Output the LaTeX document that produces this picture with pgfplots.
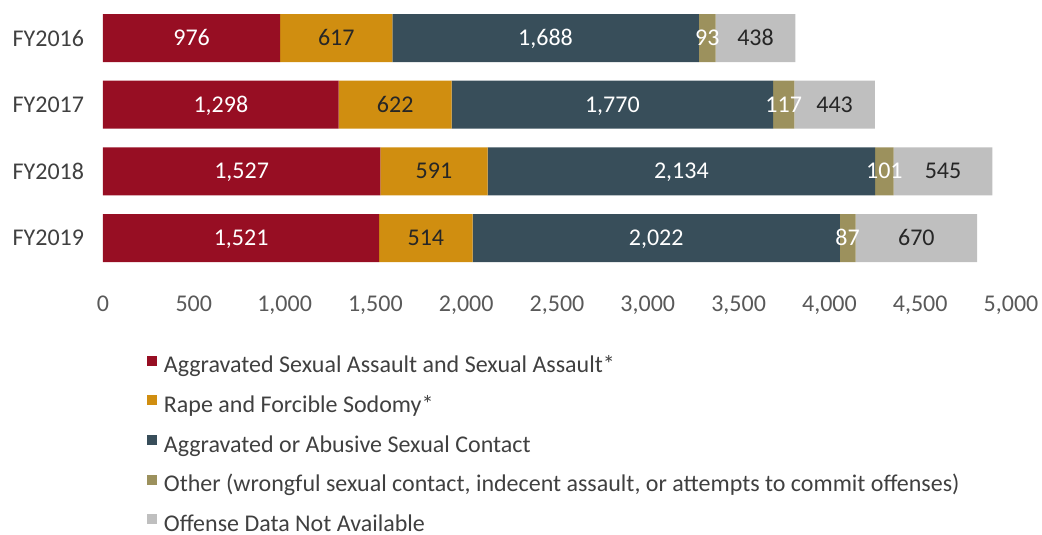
\documentclass[border=0pt]{standalone}
\usepackage{fontspec}
\setmainfont{Carlito}
\usepackage{pgfplots}
\usepackage{pgfplotstable}
\pgfplotsset{compat=1.18}
\definecolor{cRed}{HTML}{970E23}
\definecolor{cOrange}{HTML}{D08E10}
\definecolor{cSlate}{HTML}{384E5A}
\definecolor{cOlive}{HTML}{9C915D}
\definecolor{cGray}{HTML}{BFBFBF}
\definecolor{cDark}{HTML}{262626}
\definecolor{cTick}{HTML}{595959}
\definecolor{cText}{HTML}{404040}
\pgfplotstableread{
idx a b c d e
0 976 617 1688 93 438
1 1298 622 1770 117 443
2 1527 591 2134 101 545
3 1521 514 2022 87 670
}\data
\begin{document}
\begin{tikzpicture}
\path[use as bounding box] (-77.25pt,-197.75pt) rectangle (704.25pt,203.5pt);
\pgfplotsset{
  common/.style={
    at={(0pt,0pt)}, anchor=south west,
    scale only axis, width=681pt, height=200pt,
    xmin=0, xmax=5000, ymin=-0.5, ymax=3.5, y dir=reverse,
    axis line style={draw=none}, tick style={draw=none},
    /pgf/number format/1000 sep={,},
    /pgf/number format/assume math mode=true,
  }
}
\begin{axis}[common,
  xbar stacked, bar width=36pt,
  font=\fontsize{18pt}{21.6pt}\selectfont,
  xtick={0,500,...,5000},
  ytick={0,1,2,3}, yticklabels={FY2016,FY2017,FY2018,FY2019},
  xticklabel style={inner sep=0pt, anchor=base, yshift=-30pt, text=cTick},
  yticklabel style={inner sep=0pt, anchor=east, xshift=-14pt, text=cText},
  legend cell align=left,
  legend image code/.code={\fill[#1] (0pt,1pt) rectangle (7.5pt,8.5pt);},
  legend style={at={(axis description cs:0,0)}, anchor=north west,
    xshift=33pt, yshift=-63pt, draw=none, fill=none, inner sep=0pt,
    row sep=12.75pt, text=cText,
    nodes={inner sep=0pt, text height=13pt, text depth=4pt},
    /tikz/every odd column/.append style={column sep=5pt}},
]
\addplot[fill=cRed, draw=none] table[x=a, y=idx] {\data};
\addplot[fill=cOrange, draw=none] table[x=b, y=idx] {\data};
\addplot[fill=cSlate, draw=none] table[x=c, y=idx] {\data};
\addplot[fill=cOlive, draw=none] table[x=d, y=idx] {\data};
\addplot[fill=cGray, draw=none] table[x=e, y=idx] {\data};
\legend{Aggravated Sexual Assault and Sexual Assault*,
Rape and Forcible Sodomy*,
Aggravated or Abusive Sexual Contact,
Other (wrongful sexual contact{,} indecent assault{,} or attempts to commit offenses),
Offense Data Not Available}
\end{axis}
\begin{axis}[common, hide axis,
  nodes near coords={\pgfmathprintnumber{\pgfplotspointmeta}},
  point meta=explicit,
  every node near coord/.append style={anchor=base, yshift=-5.7pt, inner sep=0pt,
    font=\fontsize{18pt}{21.6pt}\selectfont},
]
\addplot[draw=none, mark=none, every node near coord/.append style={text=white}]
  table[x expr=\thisrow{a}/2, y=idx, meta=a] {\data};
\addplot[draw=none, mark=none, every node near coord/.append style={text=cDark}]
  table[x expr=\thisrow{a}+\thisrow{b}/2, y=idx, meta=b] {\data};
\addplot[draw=none, mark=none, every node near coord/.append style={text=white}]
  table[x expr=\thisrow{a}+\thisrow{b}+\thisrow{c}/2, y=idx, meta=c] {\data};
\addplot[draw=none, mark=none, every node near coord/.append style={text=white}]
  table[x expr=\thisrow{a}+\thisrow{b}+\thisrow{c}+\thisrow{d}/2, y=idx, meta=d] {\data};
\addplot[draw=none, mark=none, every node near coord/.append style={text=cDark}]
  table[x expr=\thisrow{a}+\thisrow{b}+\thisrow{c}+\thisrow{d}+\thisrow{e}/2, y=idx, meta=e] {\data};
\end{axis}
\end{tikzpicture}
\end{document}
